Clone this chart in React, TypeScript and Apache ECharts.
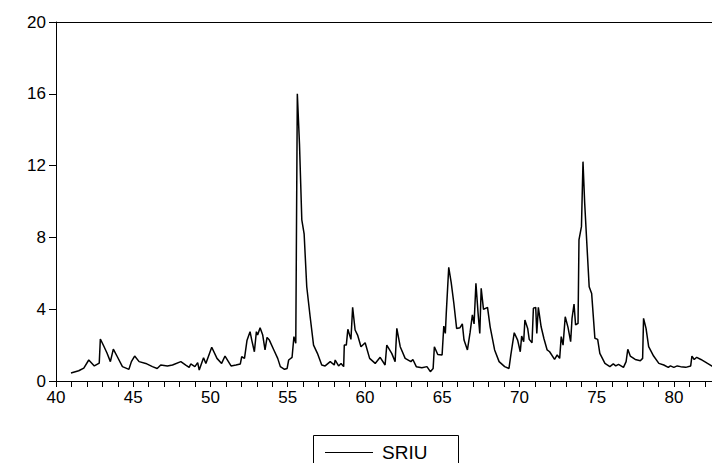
import React, { useEffect, useRef } from 'react';
import * as echarts from 'echarts';

// year, value pairs
const years = [
  40.97, 41.47, 41.8, 42.12, 42.48, 42.8, 42.87, 43.09, 43.3, 43.52, 43.71, 43.97, 44.3, 44.72, 44.88, 45.09,
  45.38, 45.81, 46.24, 46.55, 46.78, 47.21, 47.54, 48.08, 48.4, 48.62, 48.72, 48.99, 49.17, 49.27, 49.55, 49.7,
  50.08, 50.42, 50.72, 50.94, 51.33, 51.65, 51.93, 52.02, 52.2, 52.36, 52.56, 52.67, 52.84, 52.97, 53.05, 53.21,
  53.38, 53.53, 53.66, 53.81, 54.1, 54.35, 54.52, 54.79, 54.96, 55.06, 55.28, 55.4, 55.52, 55.62, 55.76, 55.91,
  56.06, 56.23, 56.45, 56.67, 56.92, 57.2, 57.42, 57.75, 58.01, 58.07, 58.29, 58.45, 58.62, 58.66, 58.79, 58.89,
  59.09, 59.2, 59.36, 59.52, 59.74, 60.01, 60.3, 60.66, 60.98, 61.3, 61.41, 61.73, 61.95, 62.06, 62.28, 62.6,
  62.97, 63.1, 63.32, 63.68, 64.01, 64.23, 64.41, 64.49, 64.71, 64.99, 65.1, 65.2, 65.26, 65.42, 65.58, 65.75,
  65.93, 66.15, 66.3, 66.41, 66.63, 66.8, 66.95, 67.06, 67.18, 67.32, 67.43, 67.52, 67.67, 67.93, 68.1, 68.39,
  68.68, 69.04, 69.32, 69.44, 69.66, 69.88, 70.05, 70.14, 70.27, 70.35, 70.53, 70.63, 70.81, 70.9, 71.05, 71.12,
  71.22, 71.4, 71.58, 71.79, 71.95, 72.27, 72.44, 72.6, 72.7, 72.82, 72.96, 73.14, 73.31, 73.4, 73.53, 73.63,
  73.79, 73.85, 74.01, 74.11, 74.22, 74.37, 74.51, 74.67, 74.88, 75.06, 75.2, 75.53, 75.85, 76.07, 76.23, 76.41,
  76.73, 76.9, 77.01, 77.17, 77.49, 77.82, 77.97, 78.03, 78.19, 78.36, 78.68, 79.02, 79.34, 79.63, 79.77, 79.99,
  80.21, 80.43, 80.76, 81.08, 81.16, 81.31, 81.47, 81.74, 82.17, 82.61,
];
const sriu = [
  0.45, 0.57, 0.72, 1.17, 0.84, 1.0, 2.34, 1.95, 1.56, 1.08, 1.78, 1.35, 0.8, 0.65, 1.08, 1.39,
  1.08, 0.98, 0.8, 0.7, 0.89, 0.84, 0.89, 1.08, 0.89, 0.76, 0.95, 0.8, 1.02, 0.61, 1.3, 0.98,
  1.88, 1.26, 0.98, 1.39, 0.84, 0.89, 0.95, 1.35, 1.26, 2.25, 2.75, 2.28, 1.63, 2.75, 2.56, 2.97,
  2.56, 1.73, 2.43, 2.28, 1.73, 1.26, 0.8, 0.65, 0.7, 1.17, 1.32, 2.47, 2.1, 16.0, 13.2, 8.97,
  8.2, 5.25, 3.58, 2.0, 1.54, 0.89, 0.84, 1.08, 0.89, 1.17, 0.84, 0.98, 0.8, 2.0, 2.0, 2.88,
  2.32, 4.1, 2.84, 2.56, 1.91, 2.13, 1.26, 0.98, 1.32, 0.89, 2.0, 1.54, 1.08, 2.93, 1.91, 1.26,
  1.08, 1.2, 0.8, 0.74, 0.8, 0.52, 0.7, 1.91, 1.48, 1.45, 3.06, 2.65, 3.77, 6.33, 5.48, 4.33,
  2.93, 2.97, 3.18, 2.28, 1.73, 2.69, 3.68, 3.18, 5.44, 3.77, 2.65, 5.16, 3.99, 4.1, 3.02, 1.73,
  1.08, 0.8, 0.7, 1.45, 2.69, 2.28, 1.63, 2.5, 2.19, 3.4, 2.93, 2.32, 2.13, 4.05, 4.1, 2.65,
  4.1, 3.02, 2.37, 1.73, 1.63, 1.2, 1.45, 1.26, 2.47, 2.0, 3.58, 2.99, 2.19, 3.49, 4.29, 3.12,
  3.21, 7.86, 8.6, 12.22, 9.9, 7.48, 5.25, 4.88, 2.38, 2.32, 1.54, 0.98, 0.8, 0.95, 0.84, 0.93,
  0.76, 1.08, 1.77, 1.39, 1.2, 1.13, 1.26, 3.49, 2.93, 1.91, 1.39, 0.98, 0.89, 0.76, 0.84, 0.76,
  0.84, 0.8, 0.76, 0.84, 1.39, 1.2, 1.32, 1.2, 0.98, 0.76,
];

const font = 'Liberation Sans, Arial, sans-serif';

export default function App() {
  const elRef = useRef<HTMLDivElement | null>(null);

  useEffect(() => {
    if (!elRef.current) return;
    const chart = echarts.init(elRef.current, undefined, { renderer: 'svg' });
    chart.setOption({
      animation: false,
      grid: { left: 56, right: 0, top: 22, bottom: 82 },
      graphic: [
        {
          type: 'rect',
          shape: { x: 313.5, y: 435.5, width: 145, height: 60 },
          style: { fill: 'none', stroke: '#000', lineWidth: 1 },
        },
        {
          type: 'line',
          shape: { x1: 325, y1: 452.5, x2: 373, y2: 452.5 },
          style: { stroke: '#000', lineWidth: 1 },
        },
        {
          type: 'text',
          x: 382,
          y: 452,
          style: { text: 'SRIU', fill: '#000', font: `19px ${font}`, verticalAlign: 'middle' },
        },
      ],
      xAxis: [
        {
          type: 'value',
          min: 40,
          max: 82.46,
          interval: 5,
          axisLine: { onZero: false, lineStyle: { color: '#000', width: 1 } },
          axisTick: { length: 6, lineStyle: { color: '#000' } },
          minorTick: { show: true, splitNumber: 5, length: 6, lineStyle: { color: '#000' } },
          axisLabel: { color: '#000', fontSize: 17, fontFamily: font, margin: 8, showMaxLabel: false },
          splitLine: { show: false },
        },
        {
          type: 'value',
          position: 'top',
          min: 40,
          max: 82.46,
          axisLine: { onZero: false, lineStyle: { color: '#000', width: 1 } },
          axisTick: { show: false },
          axisLabel: { show: false },
          splitLine: { show: false },
        },
      ],
      yAxis: {
        type: 'value',
        min: 0,
        max: 20,
        interval: 4,
        axisLine: { show: true, lineStyle: { color: '#000', width: 1 } },
        axisTick: { show: true, length: 7, lineStyle: { color: '#000' } },
        axisLabel: { color: '#000', fontSize: 17, fontFamily: font, margin: 10 },
        splitLine: { show: false },
      },
      series: [
        {
          name: 'SRIU',
          type: 'line',
          data: years.map((y, i) => [y, sriu[i]]),
          showSymbol: false,
          clip: true,
          lineStyle: { color: '#000', width: 1.5 },
          itemStyle: { color: '#000' },
        },
      ],
    });
    return () => chart.dispose();
  }, []);

  return (
    <div style={{ position: 'absolute', left: 0, top: 0 }}>
      <div ref={elRef} style={{ width: 712, height: 463 }} />
    </div>
  );
}
